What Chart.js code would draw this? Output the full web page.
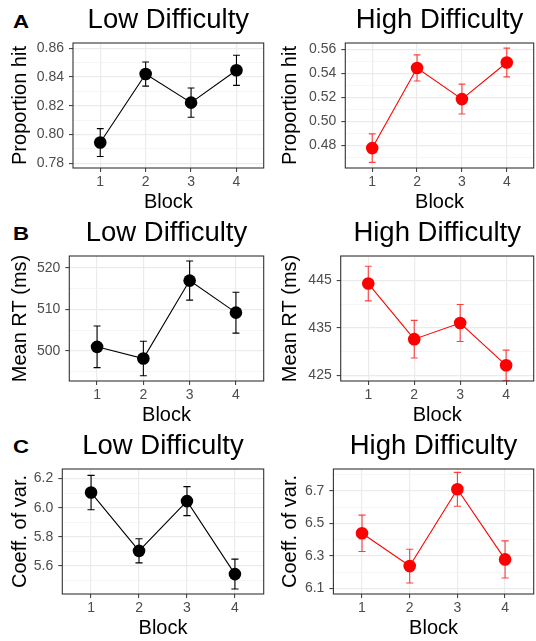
<!DOCTYPE html>
<html lang="en">

<head>
    <meta charset="UTF-8" />
    <title>Block effects by difficulty</title>
    <script src="https://cdn.jsdelivr.net/npm/chart.js"></script>
    <style>
        body {
            margin: 0;
            width: 536px;
            height: 641px;
            overflow: hidden;
            background: #fff;
            position: relative;
            font-family: "Liberation Sans", Arial, sans-serif;
        }

        canvas {
            position: absolute;
        }

        .tag {
            position: absolute;
            left: 12.5px;
            font-weight: bold;
            font-size: 18.5px;
            line-height: 18.5px;
            transform: scaleX(1.2);
            transform-origin: left top;
        }
    </style>
</head>

<body>
    <!-- panel letters -->
    <div class="tag" style="top:12.6px">A</div>
    <div class="tag" style="top:225.3px">B</div>
    <div class="tag" style="top:437.6px">C</div>

    <canvas id="hitLow" width="270" height="213" style="left:0;top:0"></canvas>
    <canvas id="hitHigh" width="272" height="213" style="left:268px;top:0"></canvas>
    <canvas id="rtLow" width="270" height="213" style="left:0;top:213px"></canvas>
    <canvas id="rtHigh" width="272" height="213" style="left:268px;top:213px"></canvas>
    <canvas id="cvLow" width="270" height="213" style="left:0;top:426px"></canvas>
    <canvas id="cvHigh" width="272" height="213" style="left:268px;top:426px"></canvas>

    <script>
        const blocks = [1, 2, 3, 4];

        // A - proportion hit (mean and standard error)
        const hitLowMean = [0.7944, 0.8421, 0.8222, 0.8447];
        const hitLowSe = [0.0097, 0.0084, 0.0102, 0.0105];
        const hitHighMean = [0.4775, 0.5444, 0.5184, 0.5489];
        const hitHighSe = [0.0119, 0.0109, 0.0125, 0.0120];

        // B - mean RT (ms)
        const rtLowMean = [501.0, 498.2, 516.9, 509.2];
        const rtLowSe = [5.0, 4.15, 4.7, 4.9];
        const rtHighMean = [444.3, 432.6, 436.0, 427.1];
        const rtHighSe = [3.65, 3.95, 3.9, 3.2];

        // C - coefficient of variation
        const cvLowMean = [6.104, 5.703, 6.045, 5.543];
        const cvLowSe = [0.118, 0.083, 0.100, 0.103];
        const cvHighMean = [6.439, 6.237, 6.710, 6.278];
        const cvHighSe = [0.112, 0.104, 0.104, 0.114];

        // y tick labels
        const hitLowTicks = [0.78, 0.80, 0.82, 0.84, 0.86];
        const hitHighTicks = [0.48, 0.50, 0.52, 0.54, 0.56];
        const rtLowTicks = [500, 510, 520];
        const rtHighTicks = [425, 435, 445];
        const cvLowTicks = [5.6, 5.8, 6.0, 6.2];
        const cvHighTicks = [6.1, 6.3, 6.5, 6.7];

        Chart.defaults.font.family = '"Liberation Sans", Arial, sans-serif';

        const panels = [
            { id: 'hitLow', title: 'Low Difficulty', ylab: 'Proportion hit', mean: hitLowMean, se: hitLowSe, ticks: hitLowTicks, dp: 2, min: 0.7767, max: 0.8637, red: false, yw: 73 },
            { id: 'hitHigh', title: 'High Difficulty', ylab: 'Proportion hit', mean: hitHighMean, se: hitHighSe, ticks: hitHighTicks, dp: 2, min: 0.4609, max: 0.5652, red: true, yw: 77.3 },
            { id: 'rtLow', title: 'Low Difficulty', ylab: 'Mean RT (ms)', mean: rtLowMean, se: rtLowSe, ticks: rtLowTicks, dp: 0, min: 492.8, max: 522.8, red: false, yw: 69.3 },
            { id: 'rtHigh', title: 'High Difficulty', ylab: 'Mean RT (ms)', mean: rtHighMean, se: rtHighSe, ticks: rtHighTicks, dp: 0, min: 423.8, max: 450.1, red: true, yw: 72.7 },
            { id: 'cvLow', title: 'Low Difficulty', ylab: 'Coeff. of var.', mean: cvLowMean, se: cvLowSe, ticks: cvLowTicks, dp: 1, min: 5.406, max: 6.266, red: false, yw: 62.3 },
            { id: 'cvHigh', title: 'High Difficulty', ylab: 'Coeff. of var.', mean: cvHighMean, se: cvHighSe, ticks: cvHighTicks, dp: 1, min: 6.065, max: 6.835, red: true, yw: 65.4 }
        ];

        // error bars drawn under the points, through the chart scales
        const errorBars = {
            id: 'errorBars',
            beforeDatasetsDraw(chart, args, opts) {
                const { ctx, scales: { x, y } } = chart;
                const ds = chart.data.datasets[0];
                ctx.save();
                ctx.strokeStyle = opts.color;
                ctx.lineWidth = 1.1;
                ds.data.forEach((pt, i) => {
                    const e = ds.errors[i];
                    const top = y.getPixelForValue(pt.y + e);
                    const bot = y.getPixelForValue(pt.y - e);
                    const cx = x.getPixelForValue(pt.x);
                    const l = x.getPixelForValue(pt.x - opts.cap);
                    const r = x.getPixelForValue(pt.x + opts.cap);
                    ctx.beginPath();
                    ctx.moveTo(cx, top); ctx.lineTo(cx, bot);
                    ctx.moveTo(l, top); ctx.lineTo(r, top);
                    ctx.moveTo(l, bot); ctx.lineTo(r, bot);
                    ctx.stroke();
                });
                ctx.restore();
            }
        };

        // ggplot style panel border
        const panelBorder = {
            id: 'panelBorder',
            afterDraw(chart) {
                const { ctx, chartArea: a } = chart;
                ctx.save();
                ctx.strokeStyle = '#333333';
                ctx.lineWidth = 1.1;
                ctx.strokeRect(a.left, a.top, a.right - a.left, a.bottom - a.top);
                ctx.restore();
            }
        };

        function gridTicks(p) {
            const step = p.ticks[1] - p.ticks[0];
            const list = p.ticks.map(v => ({ value: v }));
            for (let v = p.ticks[0] - step / 2; v <= p.max; v += step) {
                const m = Number(v.toFixed(6));
                if (m >= p.min && m <= p.max) list.push({ value: m, minor: true });
            }
            return list.sort((a, b) => a.value - b.value);
        }

        panels.forEach(p => {
            const leftCol = !p.red;
            const col = p.red ? '#ff0000' : '#000000';
            new Chart(document.getElementById(p.id), {
                type: 'line',
                data: {
                    datasets: [{
                        data: blocks.map((b, i) => ({ x: b, y: p.mean[i] })),
                        errors: p.se,
                        borderColor: col,
                        borderWidth: 1.1,
                        pointRadius: 6.3,
                        pointHoverRadius: 6.3,
                        pointBackgroundColor: col,
                        pointBorderWidth: 0
                    }]
                },
                options: {
                    responsive: false,
                    animation: false,
                    events: [],
                    layout: { padding: { left: 0, right: leftCol ? 2 : 1, top: 0, bottom: 0 } },
                    plugins: {
                        legend: { display: false },
                        tooltip: { enabled: false },
                        title: {
                            display: true,
                            text: p.title,
                            fullSize: false,
                            color: '#000',
                            font: { size: 27.5, weight: 'normal', lineHeight: 1.2 },
                            padding: { top: 4, bottom: 6 }
                        },
                        errorBars: { color: p.red ? 'rgba(255,0,0,0.75)' : '#000', cap: 0.075 }
                    },
                    scales: {
                        x: {
                            type: 'linear',
                            bounds: 'data',
                            min: 0.4,
                            max: 4.6,
                            afterFit: s => { s.height = 45; },
                            afterBuildTicks: s => { s.ticks = blocks.map(v => ({ value: v })); },
                            ticks: { autoSkip: false, maxRotation: 0, color: '#4d4d4d', font: { size: 14 }, padding: 1.4, callback: v => String(v) },
                            grid: { color: '#ebebeb', lineWidth: 1.2, tickLength: 4, tickColor: '#333333', tickWidth: 1 },
                            border: { display: false },
                            title: { display: true, text: 'Block', color: '#000', font: { size: 20, lineHeight: 1.1 }, padding: { top: 0, bottom: 0 } }
                        },
                        y: {
                            type: 'linear',
                            bounds: 'data',
                            min: p.min,
                            max: p.max,
                            afterFit: s => { s.width = p.yw; },
                            afterBuildTicks: s => { s.ticks = gridTicks(p); },
                            ticks: {
                                autoSkip: false,
                                color: '#4d4d4d',
                                font: { size: 14 },
                                padding: 5,
                                callback: (v, i, t) => t[i].minor ? '' : v.toFixed(p.dp)
                            },
                            grid: {
                                color: c => c.tick && c.tick.minor ? '#f2f2f2' : '#ebebeb',
                                lineWidth: c => c.tick && c.tick.minor ? 0.8 : 1.2,
                                tickLength: 4,
                                tickColor: c => c.tick && c.tick.minor ? 'rgba(0,0,0,0)' : '#333333',
                                tickWidth: 1
                            },
                            border: { display: false },
                            title: { display: true, text: p.ylab, color: '#000', font: { size: 20, lineHeight: 1.2 }, padding: { top: leftCol ? 8 : 10.5, bottom: 0 } }
                        }
                    }
                },
                plugins: [errorBars, panelBorder]
            });
        });
    </script>
</body>

</html>
